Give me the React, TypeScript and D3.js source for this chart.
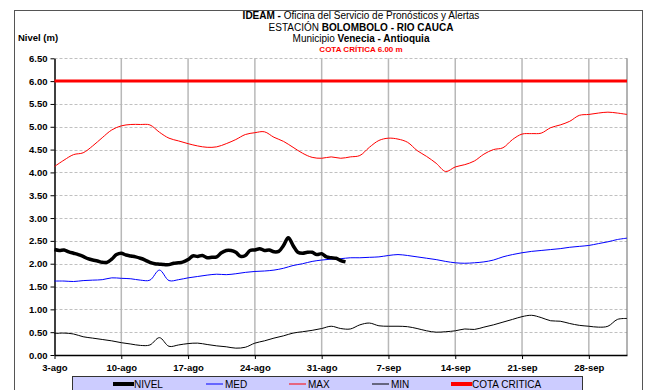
import * as d3 from "d3";
import { useEffect, useRef } from "react";

// readings every 12 h from 3-ago
const nivel = [
  2.31, 2.29, 2.3, 2.26, 2.23, 2.2, 2.16, 2.11, 2.08, 2.06, 2.03, 2.03, 2.1, 2.2, 2.23, 2.19,
  2.17, 2.15, 2.12, 2.08, 2.03, 2.0, 1.99, 1.98, 1.98, 2.01, 2.02, 2.04, 2.09, 2.17, 2.16, 2.18,
  2.13, 2.14, 2.15, 2.24, 2.29, 2.29, 2.25, 2.16, 2.18, 2.29, 2.3, 2.33, 2.29, 2.3, 2.26, 2.27,
  2.4, 2.57, 2.4, 2.25, 2.23, 2.25, 2.25, 2.2, 2.22, 2.15, 2.13, 2.12, 2.07, 2.04,
];

// daily series, 3-ago .. 2-oct
const med = [
  1.62, 1.62, 1.61, 1.63, 1.64, 1.65, 1.69, 1.68, 1.67, 1.64, 1.64, 1.86, 1.63, 1.65, 1.69, 1.72,
  1.75, 1.77, 1.76, 1.78, 1.81, 1.83, 1.84, 1.86, 1.9, 1.96, 2.0, 2.05, 2.08, 2.1, 2.11, 2.13,
  2.13, 2.14, 2.15, 2.18, 2.2, 2.18, 2.15, 2.12, 2.09, 2.05, 2.02, 2.01, 2.02, 2.04, 2.08, 2.15,
  2.2, 2.24, 2.27, 2.29, 2.31, 2.33, 2.36, 2.38, 2.4, 2.44, 2.48, 2.53, 2.56,
];
const max = [
  4.13, 4.27, 4.39, 4.43, 4.58, 4.76, 4.93, 5.02, 5.05, 5.05, 5.04, 4.88, 4.75, 4.69, 4.63, 4.58,
  4.55, 4.56, 4.63, 4.72, 4.83, 4.87, 4.89, 4.77, 4.68, 4.55, 4.42, 4.33, 4.31, 4.34, 4.31, 4.34,
  4.37, 4.55, 4.7, 4.75, 4.73, 4.66, 4.48, 4.35, 4.2, 4.02, 4.12, 4.17, 4.25, 4.4, 4.5, 4.54,
  4.72, 4.84, 4.85, 4.86, 4.98, 5.04, 5.12, 5.25, 5.27, 5.3, 5.32, 5.3, 5.27,
];
const min = [
  0.47, 0.48, 0.46, 0.4, 0.37, 0.34, 0.31, 0.27, 0.24, 0.21, 0.22, 0.38, 0.19, 0.22, 0.25, 0.26,
  0.23, 0.2, 0.18, 0.15, 0.17, 0.26, 0.31, 0.37, 0.42, 0.48, 0.51, 0.54, 0.58, 0.63, 0.58, 0.57,
  0.66, 0.7, 0.64, 0.63, 0.63, 0.62, 0.58, 0.53, 0.5, 0.51, 0.53, 0.57, 0.56, 0.61, 0.66, 0.72,
  0.78, 0.84, 0.87, 0.82, 0.75, 0.74, 0.69, 0.65, 0.63, 0.61, 0.63, 0.78, 0.8,
];
const cotaCritica = 6.0;
const yTicks = [0, 0.5, 1, 1.5, 2, 2.5, 3, 3.5, 4, 4.5, 5, 5.5, 6, 6.5];
const meses = ["ene", "feb", "mar", "abr", "may", "jun", "jul", "ago", "sep", "oct", "nov", "dic"];

const start = new Date(Date.UTC(2013, 7, 3));
const end = new Date(Date.UTC(2013, 9, 2));
const DAY = 86400000;

const legendItems = [
  { label: "NIVEL", color: "#000000", width: 4, x: 113 },
  { label: "MED", color: "#0000ff", width: 1, x: 206 },
  { label: "MAX", color: "#ff0000", width: 1, x: 289 },
  { label: "MIN", color: "#000000", width: 1, x: 372 },
  { label: "COTA CRITICA", color: "#ff0000", width: 4, x: 451 },
];

export default function App() {
  const svgRef = useRef<SVGSVGElement>(null);

  useEffect(() => {
    const svg = d3.select(svgRef.current);
    svg.selectAll("*").remove();

    const left = 54.5;
    const right = 627;
    const top = 58.3;
    const bottom = 355;

    const x = d3.scaleUtc().domain([start, end]).range([left, right]);
    const y = d3.scaleLinear().domain([0, 6.5]).range([bottom, top]);
    // weekly ticks counted from the first day
    const weeks = d3.utcDay.range(start, end, 7);
    const fmt = (d: Date) => `${d.getUTCDate()}-${meses[d.getUTCMonth()]}`;

    // outer frame
    svg
      .append("rect")
      .attr("x", 14.5)
      .attr("y", 10.5)
      .attr("width", 628)
      .attr("height", 400)
      .attr("fill", "#ffffff")
      .attr("stroke", "#555555");

    // titles
    const title = svg.append("g").attr("text-anchor", "middle").attr("fill", "#000");
    const t1 = title.append("text").attr("x", 361).attr("y", 19).attr("font-size", 10);
    t1.append("tspan").attr("font-weight", "bold").text("IDEAM - ");
    t1.append("tspan").text("Oficina del Servicio de Pronósticos y Alertas");
    const t2 = title.append("text").attr("x", 361).attr("y", 30.5).attr("font-size", 10);
    t2.append("tspan").text("ESTACIÓN ");
    t2.append("tspan").attr("font-weight", "bold").text("BOLOMBOLO - RIO CAUCA");
    const t3 = title.append("text").attr("x", 361).attr("y", 42).attr("font-size", 10);
    t3.append("tspan").text("Municipio ");
    t3.append("tspan").attr("font-weight", "bold").text("Venecia - Antioquia");
    title
      .append("text")
      .attr("x", 361)
      .attr("y", 51.5)
      .attr("font-size", 8)
      .attr("font-weight", "bold")
      .attr("fill", "#ff0000")
      .text("COTA CRÍTICA 6.00 m");

    svg
      .append("text")
      .attr("x", 18)
      .attr("y", 41)
      .attr("font-size", 9.5)
      .attr("font-weight", "bold")
      .text("Nivel (m)");

    // grid
    svg
      .append("g")
      .selectAll("line")
      .data(yTicks.filter((t) => t > 0))
      .join("line")
      .attr("x1", left)
      .attr("x2", right)
      .attr("y1", (d) => Math.round(y(d)) + 0.5)
      .attr("y2", (d) => Math.round(y(d)) + 0.5)
      .attr("stroke", "#c0c0c0")
      .attr("stroke-dasharray", "3,2");

    svg
      .append("g")
      .selectAll("line")
      .data(weeks.slice(1))
      .join("line")
      .attr("x1", (d) => x(d))
      .attr("x2", (d) => x(d))
      .attr("y1", top)
      .attr("y2", bottom)
      .attr("stroke", "#b8b8b8")
      .attr("stroke-width", 1.5);

    // right border of plot area
    svg
      .append("line")
      .attr("x1", right)
      .attr("x2", right)
      .attr("y1", top)
      .attr("y2", bottom)
      .attr("stroke", "#808080")
      .attr("stroke-width", 1.2);

    // axes
    const yAxis = svg
      .append("g")
      .attr("transform", `translate(${left},0)`)
      .call(d3.axisLeft(y).tickValues(yTicks).tickSize(4).tickSizeOuter(0).tickFormat((d) => d3.format(".2f")(d as number)));
    yAxis.select(".domain").attr("stroke", "#000").attr("stroke-width", 1.5);
    yAxis.selectAll("text").attr("font-size", 9.5).attr("font-weight", "bold").attr("font-family", null).attr("x", -7);

    const xAxis = svg
      .append("g")
      .attr("transform", `translate(0,${bottom})`)
      .call(d3.axisBottom(x).tickValues(weeks).tickSize(4).tickSizeOuter(0).tickFormat((d) => fmt(d as Date)));
    xAxis.select(".domain").attr("stroke", "#000").attr("stroke-width", 1.5);
    xAxis.selectAll("text").attr("font-size", 9.5).attr("font-weight", "bold").attr("font-family", null).attr("y", 9);

    // cota critica
    svg
      .append("line")
      .attr("x1", left)
      .attr("x2", right)
      .attr("y1", y(cotaCritica))
      .attr("y2", y(cotaCritica))
      .attr("stroke", "#ff0000")
      .attr("stroke-width", 3);

    const daily = (i: number) => new Date(start.getTime() + i * DAY);
    const half = (i: number) => new Date(start.getTime() + i * DAY * 0.5);

    const lineFor = (when: (i: number) => Date) =>
      d3
        .line<number>()
        .x((_, i) => x(when(i)))
        .y((d) => y(d))
        .curve(d3.curveCatmullRom.alpha(0.5));

    const series = [
      { data: max, color: "#ff0000", width: 1, when: daily },
      { data: med, color: "#0000ff", width: 1, when: daily },
      { data: min, color: "#000000", width: 1, when: daily },
      { data: nivel, color: "#000000", width: 3.5, when: half },
    ];
    for (const s of series) {
      svg
        .append("path")
        .datum(s.data)
        .attr("d", lineFor(s.when))
        .attr("fill", "none")
        .attr("stroke", s.color)
        .attr("stroke-width", s.width)
        .attr("stroke-linejoin", "round");
    }

    // legend
    const legend = svg.append("g");
    legend
      .append("rect")
      .attr("x", 72.5)
      .attr("y", 376.5)
      .attr("width", 510)
      .attr("height", 24)
      .attr("fill", "#ccccff")
      .attr("stroke", "#333333");
    const item = legend
      .selectAll("g")
      .data(legendItems)
      .join("g")
      .attr("transform", (d) => `translate(${d.x},384)`);
    item
      .append("line")
      .attr("x1", 0)
      .attr("x2", (d) => (d.width > 1 ? 21 : 17))
      .attr("stroke", (d) => d.color)
      .attr("stroke-width", (d) => d.width);
    item
      .append("text")
      .attr("x", (d) => (d.width > 1 ? 21 : 19))
      .attr("y", 3.5)
      .attr("font-size", 10)
      .text((d) => d.label);
  }, []);

  return (
    <svg
      ref={svgRef}
      width={650}
      height={390}
      style={{ position: "absolute", left: 0, top: 0, fontFamily: "'Liberation Sans', Arial, sans-serif" }}
    />
  );
}
